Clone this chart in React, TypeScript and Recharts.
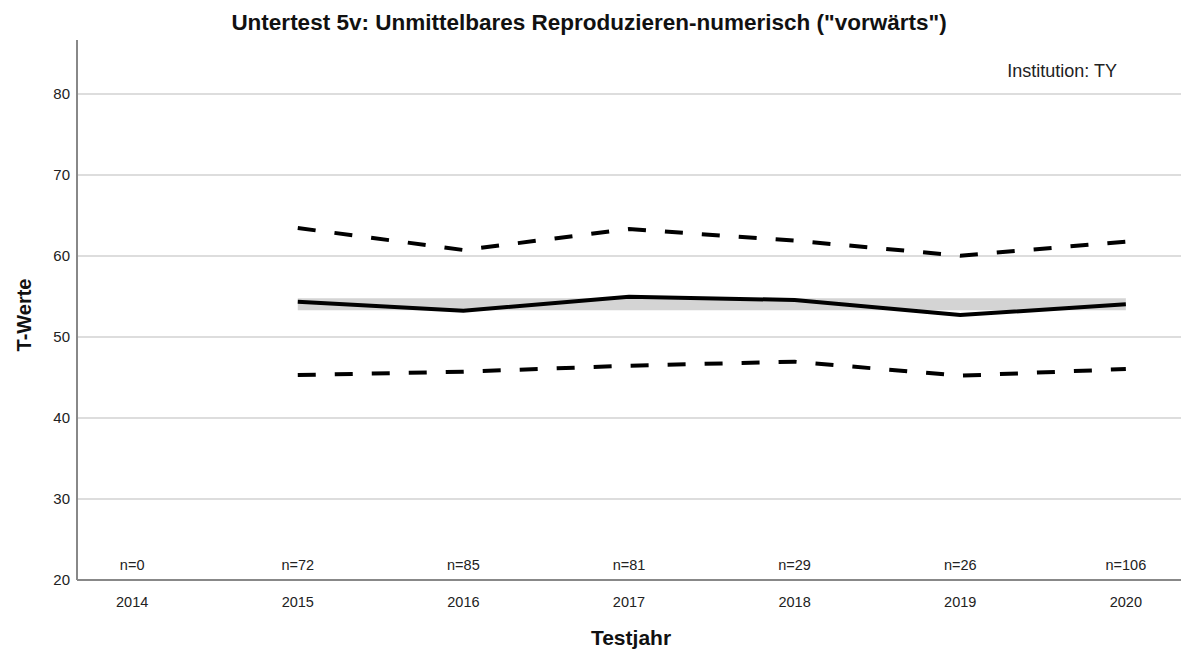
import { ComposedChart, Line, Area, XAxis, YAxis, CartesianGrid } from 'recharts';

const years = [2014, 2015, 2016, 2017, 2018, 2019, 2020];
const nCounts = [0, 72, 85, 81, 29, 26, 106];
const meanValues = [null, 54.36, 53.25, 54.98, 54.57, 52.72, 54.04];
const upperValues = [null, 63.46, 60.74, 63.33, 61.9, 60.04, 61.77];
const lowerValues = [null, 45.31, 45.72, 46.46, 46.95, 45.22, 46.05];
const bandLow = [null, 53.3, 53.3, 53.3, 53.3, 53.3, 53.3];
const bandHigh = [null, 54.8, 54.8, 54.8, 54.8, 54.8, 54.8];
const yTicks = [20, 30, 40, 50, 60, 70, 80];

const data = years.map((year, i) => ({
  year,
  n: nCounts[i],
  mean: meanValues[i],
  upper: upperValues[i],
  lower: lowerValues[i],
  band: bandLow[i] == null ? null : [bandLow[i], bandHigh[i]],
}));

const FONT = 'Arial, "Liberation Sans", sans-serif';

const YearTick = (props: any) => {
  const { x, y, payload } = props;
  const idx = years.indexOf(payload.value);
  return (
    <g>
      <text x={x} y={y - 12} textAnchor="middle" fontSize={14.5} fontFamily={FONT} fill="#222">
        {`n=${nCounts[idx]}`}
      </text>
      <text x={x} y={y + 25} textAnchor="middle" fontSize={14.5} fontFamily={FONT} fill="#222">
        {payload.value}
      </text>
    </g>
  );
};

export default function App() {
  return (
    <div style={{ position: 'absolute', left: 0, top: 0, background: '#fff' }}>
      <ComposedChart width={1181} height={655} data={data} margin={{ top: 40, right: 0, left: 0, bottom: 35 }}>
        <CartesianGrid vertical={false} stroke="#d2d2d2" strokeWidth={1.5} horizontalValues={[30, 40, 50, 60, 70, 80]} />
        <XAxis
          dataKey="year"
          type="number"
          domain={[2013.667, 2020.333]}
          ticks={years}
          height={40}
          tickLine={false}
          tickSize={0}
          stroke="#888"
          strokeWidth={2}
          tick={<YearTick />}
          interval={0}
        />
        <YAxis
          width={77}
          domain={[20, 86.67]}
          ticks={yTicks}
          tickLine={false}
          tickSize={0}
          tickMargin={7}
          stroke="#888"
          strokeWidth={2}
          tick={{ fontSize: 15, fill: '#222', fontFamily: FONT }}
          allowDataOverflow
        />
        <Area dataKey="band" fill="#d4d4d4" fillOpacity={1} stroke="none" isAnimationActive={false} connectNulls={false} />
        <Line dataKey="upper" stroke="#000" strokeWidth={4} strokeDasharray="18 19" dot={false} isAnimationActive={false} />
        <Line dataKey="lower" stroke="#000" strokeWidth={4} strokeDasharray="18 19" dot={false} isAnimationActive={false} />
        <Line dataKey="mean" stroke="#000" strokeWidth={4} dot={false} isAnimationActive={false} />
        <text x={589} y={30} textAnchor="middle" fontSize={22.5} fontWeight="bold" fontFamily={FONT} fill="#111">
          Untertest 5v: Unmittelbares Reproduzieren-numerisch ("vorwärts")
        </text>
        <text x={1117} y={77} textAnchor="end" fontSize={18} fontFamily={FONT} fill="#222">
          Institution: TY
        </text>
        <text x={631} y={645} textAnchor="middle" fontSize={21} fontWeight="bold" fontFamily={FONT} fill="#111">
          Testjahr
        </text>
        <text x={31} y={315} textAnchor="middle" fontSize={20} fontWeight="bold" fontFamily={FONT} fill="#111" transform="rotate(-90 31 315)">
          T-Werte
        </text>
      </ComposedChart>
    </div>
  );
}
